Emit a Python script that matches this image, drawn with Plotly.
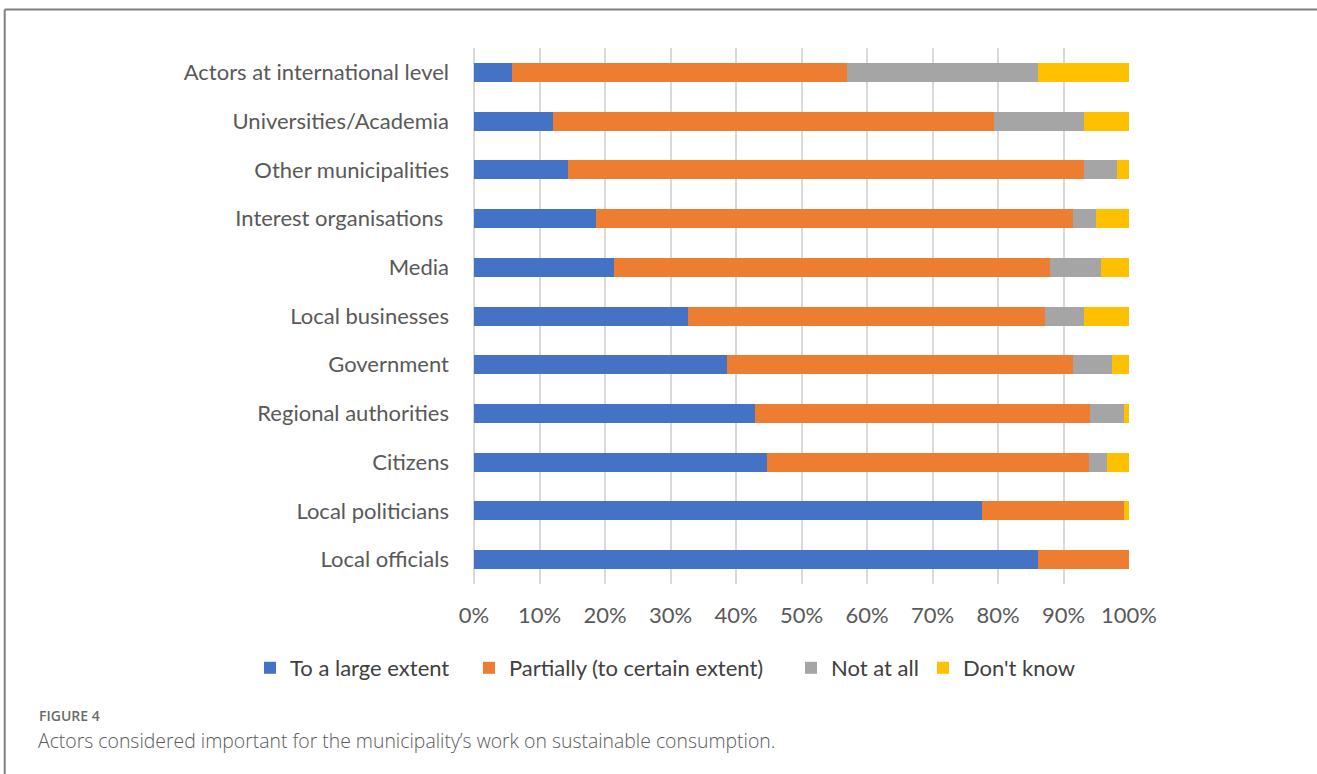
import plotly.graph_objects as go

# Actors, listed from top to bottom
actors = [
    "Actors at international level",
    "Universities/Academia",
    "Other municipalities",
    "Interest organisations ",
    "Media",
    "Local businesses",
    "Government",
    "Regional authorities",
    "Citizens",
    "Local politicians",
    "Local officials",
]

# Share of respondents (%) per answer
large_extent = [5.8, 12.0, 14.4, 18.7, 21.4, 32.7, 38.7, 42.9, 44.8, 77.5, 86.1]
partially = [51.1, 67.4, 78.7, 72.8, 66.5, 54.5, 52.8, 51.1, 49.1, 21.7, 13.9]
not_at_all = [29.2, 13.7, 5.1, 3.5, 7.9, 5.9, 5.9, 5.2, 2.7, 0.0, 0.0]
dont_know = [13.9, 6.9, 1.8, 5.0, 4.2, 6.9, 2.6, 0.8, 3.4, 0.8, 0.0]

series_names = ["To a large extent", "Partially (to certain extent)", "Not at all", "Don't know"]
series_values = [large_extent, partially, not_at_all, dont_know]
series_colors = ["#4472C4", "#ED7D31", "#A5A5A5", "#FFC000"]

W, H = 1317, 774
L, R, T, B = 474, 1129.3, 48, 584  # plot area in pixels

# One legend per series so the entries sit on a single row
legend_ids = ["legend", "legend2", "legend3", "legend4"]
legend_left = [250, 469, 791, 923]  # left edge of each legend entry (px)

fig = go.Figure()
for name, vals, col, lid in zip(series_names, series_values, series_colors, legend_ids):
    fig.add_trace(go.Bar(
        y=actors, x=vals, name=name, orientation="h",
        marker=dict(color=col, line=dict(width=0)),
        legend=lid,
    ))


def px_x(p):
    return (p - L) / (R - L)


def px_y(p):
    return (B - p) / (B - T)


legend_common = dict(
    orientation="h", xref="container", yref="container",
    xanchor="left", yanchor="middle", y=1 - 668 / H,
    font=dict(size=22, color="#404040"), itemwidth=30,
    bgcolor="rgba(0,0,0,0)", borderwidth=0,
)

fig.update_layout(
    width=W, height=H,
    margin=dict(l=L, r=W - R, t=T, b=H - B, pad=0, autoexpand=False),
    paper_bgcolor="white", plot_bgcolor="white",
    barmode="stack", bargap=0.61,
    font=dict(family="Lato, 'Open Sans', sans-serif", size=22, color="#595959"),
    xaxis=dict(
        range=[0, 100], dtick=10, ticksuffix="%",
        showgrid=True, gridcolor="#D9D9D9", gridwidth=2,
        zeroline=True, zerolinecolor="#D9D9D9", zerolinewidth=2,
        showline=False, ticks="", ticklabelstandoff=16,
        tickfont=dict(size=22, color="#595959"),
    ),
    yaxis=dict(
        autorange="reversed", showgrid=False, zeroline=False, showline=False,
        ticks="", ticklabelstandoff=24,
        tickfont=dict(size=22, color="#595959"),
    ),
    showlegend=True,
)
for lid, lx in zip(legend_ids, legend_left):
    fig.update_layout({lid: dict(x=lx / W, **legend_common)})

# Frame around the figure (top and left edges)
frame = dict(type="line", xref="paper", yref="paper",
             line=dict(color="#808080", width=2), layer="above")
fig.add_shape(x0=px_x(4.5), x1=px_x(W + 2), y0=px_y(9.5), y1=px_y(9.5), **frame)
fig.add_shape(x0=px_x(4.5), x1=px_x(4.5), y0=px_y(9.5), y1=px_y(H + 2), **frame)

# Caption
fig.add_annotation(
    text="FIGURE 4", xref="paper", yref="paper",
    x=px_x(37), y=px_y(715), xanchor="left", yanchor="middle", showarrow=False,
    font=dict(family="'Open Sans', sans-serif", size=14, color="#6b6b6b", weight=600),
)
fig.add_annotation(
    text="Actors considered important for the municipality\u2019s work on sustainable consumption.",
    xref="paper", yref="paper",
    x=px_x(36), y=px_y(741), xanchor="left", yanchor="middle", showarrow=False,
    font=dict(family="'Open Sans', sans-serif", size=19.4, color="#5a5a5a", weight=300),
)

fig.write_html("out.html")
